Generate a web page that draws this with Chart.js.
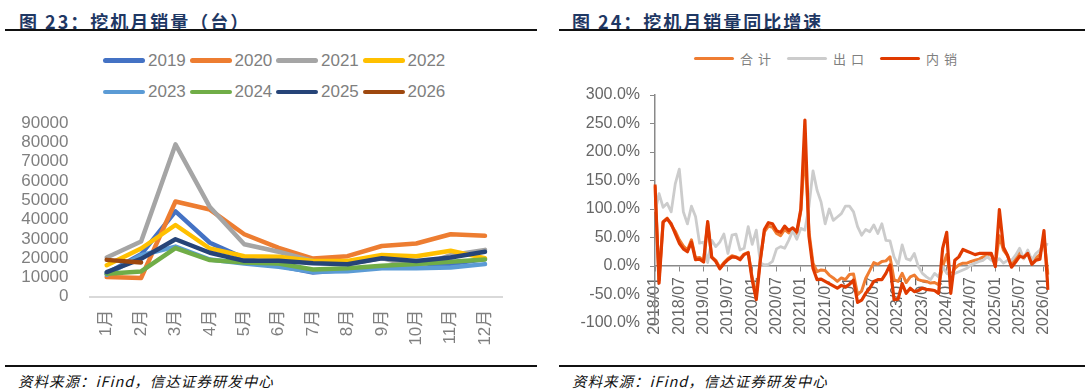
<!DOCTYPE html>
<html>
<head>
<meta charset="utf-8">
<script src="https://cdn.jsdelivr.net/npm/chart.js@4.4.1/dist/chart.umd.min.js"></script>
<style>
  body { margin: 0; width: 1087px; height: 391px; background: #fff; position: relative; overflow: hidden;
         font-family: "Liberation Sans", "Noto Sans CJK SC", sans-serif; }
  .title { position: absolute; top: 8px; line-height: 18px; font: bold 18px "Noto Sans CJK SC", sans-serif;
           color: #1f3864; letter-spacing: 2px; white-space: nowrap; }
  .rule { position: absolute; background: #111; }
  .source { position: absolute; top: 370px; line-height: 16px; font: italic 14.5px "Noto Sans CJK SC", serif;
            letter-spacing: 1px; color: #111; white-space: nowrap; }
  .leg { position: absolute; display: flex; align-items: center; white-space: nowrap; }
  .leg i { display: block; border-radius: 3px; }
  canvas { position: absolute; }
</style>
</head>
<body>
<div class="title" style="left:19px">图 23：挖机月销量（台）</div>
<div class="title" style="left:572px">图 24：挖机月销量同比增速</div>
<div class="rule" style="left:5px;top:29px;width:532px;height:2px"></div>
<div class="rule" style="left:559px;top:29px;width:526px;height:2px"></div>
<div class="rule" style="left:5px;top:365px;width:532px;height:1.5px"></div>
<div class="rule" style="left:559px;top:365px;width:526px;height:1.5px"></div>
<div class="source" style="left:18px">资料来源：iFind，信达证券研发中心</div>
<div class="source" style="left:572px">资料来源：iFind，信达证券研发中心</div>
<div id="legendLeft"></div>
<div id="legendRight"></div>
<canvas id="salesChart" width="540" height="250" style="left:0;top:100px"></canvas>
<canvas id="yoyChart" width="542" height="300" style="left:545px;top:60px"></canvas>
<script>
// ---- 图23 data (units) ----
const months = ['1月', '2月', '3月', '4月', '5月', '6月', '7月', '8月', '9月', '10月', '11月', '12月'];
const years = ['2019', '2020', '2021', '2022', '2023', '2024', '2025', '2026'];
const sales2019 = [12000, 22000, 44300, 28000, 20000, 16000, 12500, 14000, 15500, 15500, 17000, 19500];
const sales2020 = [10200, 9700, 49400, 45200, 32400, 25300, 19800, 21000, 26300, 27600, 32400, 31600];
const sales2021 = [20300, 28600, 79000, 46500, 27200, 23300, 18500, 17000, 20000, 15500, 21500, 24300];
const sales2022 = [16300, 25000, 37200, 25000, 21000, 20700, 18500, 18500, 21600, 21000, 23800, 20000];
const sales2023 = [11400, 21500, 26000, 19300, 17200, 15500, 12900, 13200, 14700, 14800, 15200, 16900];
const sales2024 = [11900, 13100, 25200, 19000, 17800, 17200, 14100, 14700, 16000, 16900, 18100, 19300];
const sales2025 = [12800, 19600, 29800, 22800, 18600, 18600, 17300, 16800, 19900, 18500, 20300, 23300];
const sales2026 = [19100, 17800];
const yearColors = ['#4472c4', '#ed7d31', '#a5a5a5', '#ffc000', '#5b9bd5', '#70ad47', '#264478', '#9e480e'];
const yTicksLeft = [0, 10000, 20000, 30000, 40000, 50000, 60000, 70000, 80000, 90000];

// ---- 图24 data (%) monthly 2018/01 - 2026/02 ----
const firstYear = 2018, lastYear = 2026, lastMonth = 2;
const periods = [];
for (let y = firstYear; y <= lastYear; y++) {
    for (let m = 1; m <= 12; m++) {
        if (y === lastYear && m > lastMonth) break;
        periods.push(y + '/' + String(m).padStart(2, '0'));
    }
}
const yoyTotal = [
    140, -25, 78, 84, 72, 61, 46, 35, 28, 46, 14, 15,
    9, 75, 16, 10, -3, 6, 13, 18, 16, 13, 21, 24,
    -21, -51, 12, 60, 70, 68, 57, 53, 64, 58, 63, 57,
    97, 205, 60, 5, -10, -7, -8, -16, -21, -27, -21, -24,
    -15, -14, -50, -44, -22, -8, 6, 3, 8, 9, 16, -24,
    -27, -13, -29, -19, -16, -24, -26, -27, -30, -29, -33, -1,
    20, -19, -4, 2, 5, 5, 8, 10, 12, 16, 18, 21,
    2, 53, 28, 18, 2, 13, 25, 13, 25, 8, 14, 20,
    48, -15
];
const yoyExport = [
    95, 127, 103, 110, 95, 144, 170, 95, 74, 105, 87, 40,
    42, 6, 45, 34, 42, 56, 22, 54, 56, 28, 31, 69,
    38, 63, 5, 2, 3, 8, 30, 34, 31, 45, 62, 47,
    66, 63, 105, 167, 133, 112, 74, 100, 80, 86, 92, 105,
    105, 95, 69, 54, 64, 60, 72, 57, 74, 45, 44, 16,
    2, 37, 13, 10, 22, -1, -13, -19, -24, -13, -19, -1,
    -13, -16, -13, -10, -7, -4, 2, 5, 8, 10, 16, 10,
    8, 13, 5, 10, 10, 19, 31, 13, 28, 10, 22, 28,
    40, 37
];
const yoyDomestic = [
    143, -30, 77, 83, 74, 57, 40, 30, 25, 42, 11, 12,
    7, 78, 15, 8, -5, 4, 11, 16, 15, 11, 20, 23,
    -25, -59, 10, 64, 76, 74, 62, 59, 70, 62, 67, 60,
    100, 256, 52, -4, -24, -23, -27, -31, -35, -39, -34, -37,
    -32, -25, -64, -60, -48, -39, -27, -24, -24, -13, 2, -59,
    -58, -31, -48, -39, -45, -43, -39, -41, -42, -43, -48, 31,
    59, -48, 10, 16, 29, 26, 23, 20, 22, 22, 22, 22,
    -1, 99, 33, 19, -2, 7, 17, 15, 22, 3, 10, 12,
    62, -42
];
const yoyNames = ['合计', '出口', '内销'];
const yoyColors = ['#ef7d32', '#cccccc', '#e03a00'];

Chart.defaults.font.family = '"Liberation Sans", "Noto Sans CJK SC", sans-serif';
Chart.defaults.animation = false;

function buildLegend(id, names, colors, opts) {
    const box = document.getElementById(id);
    names.forEach((name, i) => {
        const row = Math.floor(i / opts.perRow);
        const col = i % opts.perRow;
        const item = document.createElement('div');
        item.className = 'leg';
        item.style.left = (opts.x + col * opts.step) + 'px';
        item.style.top = (opts.y + row * opts.rowGap - 10) + 'px';
        item.style.height = '20px';
        item.style.font = opts.font;
        item.style.color = opts.color;
        item.style.letterSpacing = opts.spacing + 'px';
        item.innerHTML = '<i style="width:' + opts.swatch + 'px;height:' + opts.thick + 'px;background:' +
            colors[i] + ';margin-right:' + opts.gap + 'px"></i><span>' + name + '</span>';
        box.appendChild(item);
    });
}

buildLegend('legendLeft', years, yearColors,
    { x: 103, y: 60.5, step: 86.5, rowGap: 31.5, perRow: 4, swatch: 42, thick: 4.5, gap: 3,
      font: '17px "Liberation Sans", sans-serif', color: '#7f7f7f', spacing: 0 });
buildLegend('legendRight', yoyNames, yoyColors,
    { x: 694, y: 58.5, step: 93, rowGap: 0, perRow: 3, swatch: 40, thick: 3.5, gap: 6,
      font: '13px "Noto Sans CJK SC", sans-serif', color: '#7f7f7f', spacing: 5 });

function createSalesChart() {
    const series = [sales2019, sales2020, sales2021, sales2022, sales2023, sales2024, sales2025, sales2026];
    new Chart(document.getElementById('salesChart'), {
        type: 'line',
        data: {
            labels: months,
            datasets: series.map((data, i) => ({
                label: years[i],
                data: data,
                borderColor: yearColors[i],
                backgroundColor: yearColors[i],
                borderWidth: 4.5,
                pointRadius: 0,
                tension: 0,
                borderJoinStyle: 'round',
                borderCapStyle: 'round',
                order: series.length - 1 - i
            }))
        },
        options: {
            responsive: false,
            layout: { padding: { left: 0, right: 37.8, top: 22.7, bottom: 0 } },
            plugins: { legend: { display: false }, tooltip: { enabled: false } },
            scales: {
                x: {
                    offset: true,
                    grid: { display: true, drawOnChartArea: false, drawTicks: false },
                    border: { display: true, color: '#d9d9d9', width: 2 },
                    ticks: { minRotation: 90, maxRotation: 90, padding: 13, color: '#7f7f7f',
                             font: { size: 17 } },
                    afterFit: s => { s.height = 53.3; }
                },
                y: {
                    min: yTicksLeft[0],
                    max: yTicksLeft[yTicksLeft.length - 1],
                    afterBuildTicks: s => { s.ticks = yTicksLeft.map(v => ({ value: v })); },
                    grid: { display: false },
                    border: { display: false },
                    ticks: { autoSkip: false, padding: 13, color: '#7f7f7f', font: { size: 17 },
                             callback: v => String(v) },
                    afterFit: s => { s.width = 89.5; }
                }
            }
        }
    });
}

function createYoyChart() {
    const series = [yoyTotal, yoyExport, yoyDomestic];
    const widths = [3, 2.8, 3.2];
    new Chart(document.getElementById('yoyChart'), {
        type: 'line',
        data: {
            labels: periods,
            datasets: series.map((data, i) => ({
                label: yoyNames[i],
                data: data,
                borderColor: yoyColors[i],
                backgroundColor: yoyColors[i],
                borderWidth: widths[i],
                pointRadius: 0,
                tension: 0,
                borderJoinStyle: 'round',
                order: series.length - 1 - i
            }))
        },
        options: {
            responsive: false,
            layout: { padding: { left: 0, right: 39, top: 35, bottom: 37 } },
            plugins: { legend: { display: false }, tooltip: { enabled: false } },
            scales: {
                x: {
                    position: { y: 0 },
                    offset: false,
                    grid: {
                        display: true, drawOnChartArea: false, drawTicks: true, tickLength: 5,
                        tickColor: ctx => (ctx.index % 6 === 0 ? '#898989' : 'rgba(0,0,0,0)')
                    },
                    border: { display: true, color: '#898989', width: 1.5 },
                    ticks: {
                        autoSkip: false, minRotation: 90, maxRotation: 90, padding: 6,
                        color: '#666', font: { size: 16 },
                        callback: function (value, index) {
                            return index % 6 === 0 ? this.getLabelForValue(value) : '';
                        }
                    }
                },
                y: {
                    min: -100,
                    max: 300,
                    grid: { display: true, drawOnChartArea: false, drawTicks: true, tickLength: 5,
                            tickColor: '#898989' },
                    border: { display: true, color: '#898989', width: 1.5 },
                    ticks: { stepSize: 50, padding: 10, color: '#666', font: { size: 16 },
                             callback: v => v.toFixed(1) + '%' },
                    afterFit: s => { s.width = 110; }
                }
            }
        }
    });
}

createSalesChart();
createYoyChart();
</script>
</body>
</html>
